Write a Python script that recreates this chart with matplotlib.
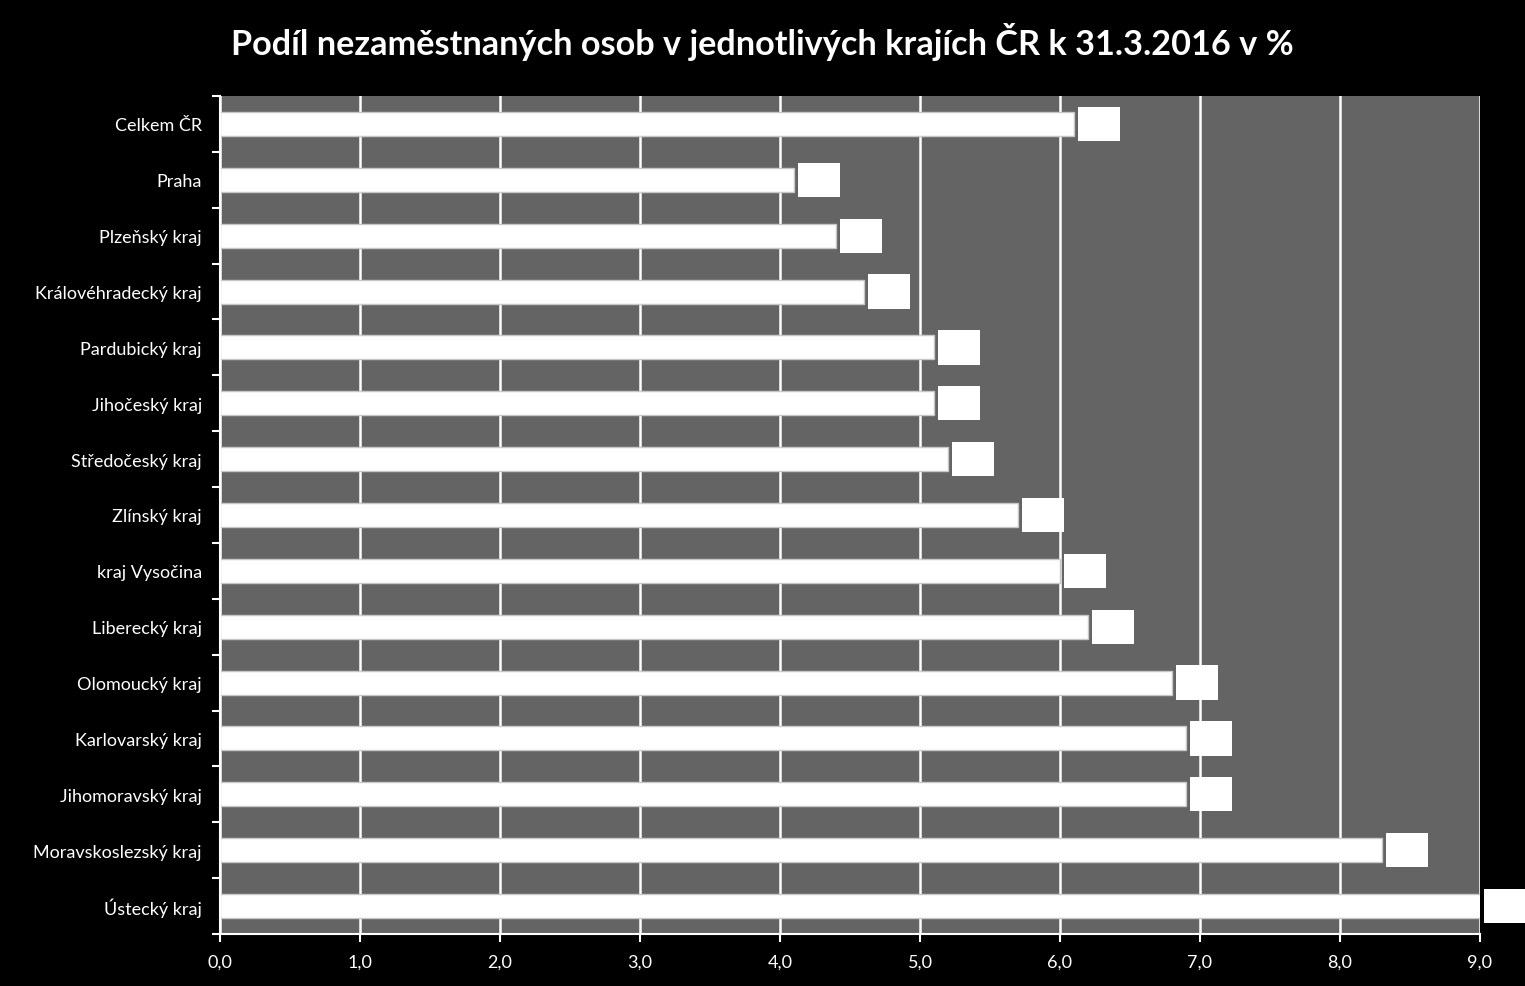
import matplotlib
matplotlib.use("Agg")
import matplotlib.pyplot as plt
import numpy as np

categories = ["Celkem ČR", "Praha", "Plzeňský kraj", "Královéhradecký kraj", "Pardubický kraj",
              "Jihočeský kraj", "Středočeský kraj", "Zlínský kraj", "kraj Vysočina", "Liberecký kraj",
              "Olomoucký kraj", "Karlovarský kraj", "Jihomoravský kraj", "Moravskoslezský kraj", "Ústecký kraj"]
values = [6.1, 4.1, 4.4, 4.6, 5.1, 5.1, 5.2, 5.7, 6.0, 6.2, 6.8, 6.9, 6.9, 8.3, 9.4]
xticks = [0, 1, 2, 3, 4, 5, 6, 7, 8, 9]
xticklabels = ["0,0", "1,0", "2,0", "3,0", "4,0", "5,0", "6,0", "7,0", "8,0", "9,0"]
title = "Podíl nezaměstnaných osob v jednotlivých krajích ČR k 31.3.2016 v %"

plt.rcParams['font.family'] = ['Lato', 'DejaVu Sans']

fig = plt.figure(figsize=(15.25, 9.87), dpi=100, facecolor="black")
ax = fig.add_axes([220/1525, 1-935/987, 1260/1525, (935-97)/987])
ax.set_facecolor("#646464")

xmax = 9
y = np.arange(len(categories))
ax.set_xlim(0, xmax)
ax.set_ylim(len(categories) - 0.5, -0.5)

for xv in xticks:
    ax.axvline(xv, color="white", lw=1.8, zorder=1)

ax.barh(y, values, height=0.43, color="white", edgecolor="#c8c8c8", linewidth=1.0, zorder=2)

fs_lab = 12
pad_frac = 0.55
offset_pt = 3 + pad_frac * fs_lab
for yi, v in zip(y, values):
    xpos = min(v, xmax)
    ax.annotate(f"{v:.1f}".replace(".", ","), xy=(xpos, yi), xytext=(offset_pt, 0), textcoords="offset points",
                ha="left", va="center", color="white", fontsize=fs_lab, annotation_clip=False,
                bbox=dict(boxstyle=f"square,pad={pad_frac}", fc="white", ec="none"), zorder=5)

ax.set_xticks(xticks)
ax.set_xticklabels(xticklabels)
ax.set_yticks(y)
ax.set_yticklabels(categories)
ax.set_yticks(np.arange(-0.5, len(categories), 1), minor=True)
ax.tick_params(axis="y", which="major", length=0, pad=13, colors="white", labelsize=13)
ax.tick_params(axis="y", which="minor", length=6, width=1.5, color="white", direction="out")
ax.tick_params(axis="x", which="major", length=6, width=1.5, colors="white", labelsize=13, pad=8)

for s in ["top", "right"]:
    ax.spines[s].set_visible(False)
for s in ["left", "bottom"]:
    ax.spines[s].set_color("white")
    ax.spines[s].set_linewidth(1.5)

fig.text(762/1525, 1-42/987, title, ha="center", va="center", color="white",
         fontsize=24.7, fontweight="bold")

fig.savefig("out.png", dpi=100, facecolor="black")
